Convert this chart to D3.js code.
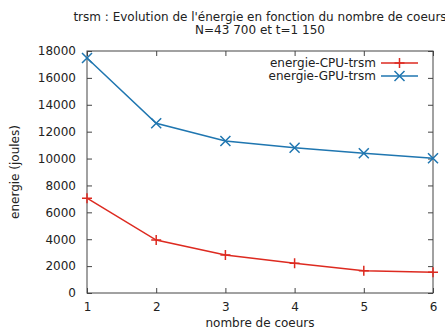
<!DOCTYPE html>
<html><head><meta charset="utf-8">
<script src="https://cdn.jsdelivr.net/npm/d3@7"></script>
<style>body{margin:0;background:#fff}svg{display:block}text{font-family:"DejaVu Sans",sans-serif;fill:#222}</style>
</head><body>
<script>
const cores = [1, 2, 3, 4, 5, 6];
const cpuEnergy = [7050, 3940, 2830, 2210, 1660, 1540];
const gpuEnergy = [17480, 12620, 11310, 10810, 10390, 10020];
const yTicks = [0, 2000, 4000, 6000, 8000, 10000, 12000, 14000, 16000, 18000];
const seriesNames = ["energie-CPU-trsm", "energie-GPU-trsm"];
const titleLines = ["trsm : Evolution de l'énergie en fonction du nombre de coeurs", "N=43 700 et t=1 150"];

const W = 445, H = 330;
const m = {l: 87, r: 12, t: 51, b: 37};
const svg = d3.select("body").append("svg").attr("width", W).attr("height", H);
const x = d3.scaleLinear().domain([1, 6]).range([m.l, W - m.r]);
const y = d3.scaleLinear().domain([0, 18000]).range([H - m.b, m.t]);
const fs = 12;
const tl = 5;

const g = svg.append("g");
const ax = [
  d3.axisBottom(x).tickValues(cores).tickSize(-tl).tickFormat(d3.format("d")),
  d3.axisTop(x).tickValues(cores).tickSize(-tl).tickFormat(""),
  d3.axisLeft(y).tickValues(yTicks).tickSize(-tl).tickFormat(d3.format("d")),
  d3.axisRight(y).tickValues(yTicks).tickSize(-tl).tickFormat("")
];
const pos = [`translate(0,${H - m.b})`, `translate(0,${m.t})`, `translate(${m.l},0)`, `translate(${W - m.r},0)`];
ax.forEach((a, i) => {
  const gg = g.append("g").attr("transform", pos[i]).call(a);
  gg.select(".domain").remove();
  gg.selectAll("line").attr("stroke", "#444");
  gg.selectAll("text").style("font-size", fs + "px").style("font-family", "DejaVu Sans").attr("fill", "#222");
  if (i === 0) gg.selectAll("text").attr("y", 9);
  if (i === 2) gg.selectAll("text").attr("x", -11);
});
svg.append("rect").attr("x", m.l).attr("y", m.t).attr("width", W - m.r - m.l).attr("height", H - m.b - m.t)
  .attr("fill", "none").attr("stroke", "#444").attr("stroke-width", 1);

const colors = ["#dd2a20", "#1f76b0"];
const data = [cpuEnergy, gpuEnergy];
const line = d3.line().x((d, i) => x(cores[i])).y(d => y(d));
const ps = 5;
function marker(sel, cx, cy, k, col) {
  const p = k === 0
    ? `M${cx - ps},${cy}L${cx + ps},${cy}M${cx},${cy - ps}L${cx},${cy + ps}`
    : `M${cx - ps},${cy - ps}L${cx + ps},${cy + ps}M${cx - ps},${cy + ps}L${cx + ps},${cy - ps}`;
  sel.append("path").attr("d", p).attr("stroke", col).attr("stroke-width", 1.5).attr("fill", "none");
}
data.forEach((s, k) => {
  svg.append("path").datum(s).attr("d", line).attr("fill", "none").attr("stroke", colors[k]).attr("stroke-width", 1.5);
  s.forEach((v, i) => marker(svg, x(cores[i]), y(v), k, colors[k]));
});

seriesNames.forEach((n, k) => {
  const ly = 63 + k * 13;
  svg.append("text").attr("x", 376).attr("y", ly).attr("dy", "0.35em").attr("text-anchor", "end").style("font-size", fs + "px").text(n);
  svg.append("line").attr("x1", 381).attr("x2", 418).attr("y1", ly).attr("y2", ly).attr("stroke", colors[k]).attr("stroke-width", 1.5);
  marker(svg, 399.5, ly, k, colors[k]);
});

titleLines.forEach((t, i) => {
  svg.append("text").attr("x", (m.l + W - m.r) / 2).attr("y", 21 + i * 13).attr("text-anchor", "middle").style("font-size", fs + "px").text(t);
});
svg.append("text").attr("x", (m.l + W - m.r) / 2).attr("y", 327).attr("text-anchor", "middle").style("font-size", fs + "px").text("nombre de coeurs");
svg.append("text").attr("transform", `translate(19,${(m.t + H - m.b) / 2}) rotate(-90)`).attr("text-anchor", "middle").style("font-size", fs + "px").text("energie (joules)");
</script>
</body></html>
